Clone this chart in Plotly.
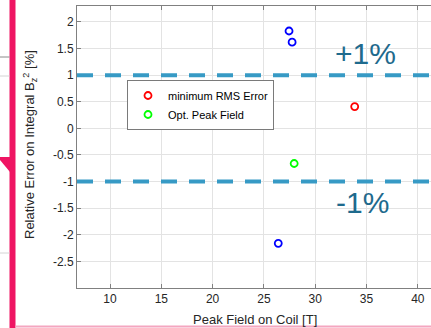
import plotly.graph_objects as go

# Peak field on coil [T] and relative error on integral Bz^2 [%]
rms_field = [33.85]
rms_error = [0.41]
peak_field = [27.95]
peak_error = [-0.66]
other_field = [27.45, 27.75, 26.4]
other_error = [1.83, 1.62, -2.16]

tolerance = [1, -1]
tolerance_labels = ["+1%", "-1%"]
tolerance_label_x = [34.9, 34.6]
tolerance_label_y = [1.41, -1.39]

x_ticks = [10, 15, 20, 25, 30, 35, 40]
y_ticks = [2, 1.5, 1, 0.5, 0, -0.5, -1, -1.5, -2, -2.5]

W, H = 431, 328
L, R, T, B = 77, 0, 6, 40
PW, PH = W - L - R, H - T - B


def px(x):
    return (x - L) / PW


def py(y):
    return 1 - (y - T) / PH


FONT = "Liberation Sans, Arial, Helvetica, sans-serif"
INK = "#262626"

fig = go.Figure()

marker_common = dict(symbol="circle-open", size=7, line=dict(width=1.8))

fig.add_trace(go.Scatter(
    x=other_field, y=other_error, mode="markers", showlegend=False,
    marker=dict(color="#0000ff", **marker_common)))
fig.add_trace(go.Scatter(
    x=rms_field, y=rms_error, mode="markers", name="minimum RMS Error",
    marker=dict(color="#ff0000", **marker_common)))
fig.add_trace(go.Scatter(
    x=peak_field, y=peak_error, mode="markers", name="Opt. Peak Field",
    marker=dict(color="#00ff00", **marker_common)))

shapes = []
# tolerance band limits
for t in tolerance:
    shapes.append(dict(type="line", xref="paper", yref="y", x0=0, x1=1, y0=t, y1=t,
                       line=dict(color="#379ac5", width=4, dash="16px,12px"), layer="above"))

# page decorations around the axes
shapes.append(dict(type="rect", xref="paper", yref="paper",
                   x0=px(9.5), x1=px(15.5), y0=py(H), y1=py(0),
                   fillcolor="#ef1563", line=dict(width=0)))
shapes.append(dict(type="line", xref="paper", yref="paper",
                   x0=px(15.5), x1=px(W), y0=py(326.5), y1=py(326.5),
                   line=dict(color="#f4a6c0", width=2)))
shapes.append(dict(type="line", xref="paper", yref="paper",
                   x0=px(0), x1=px(9.5), y0=py(57), y1=py(57),
                   line=dict(color="#8a8a8a", width=1)))
shapes.append(dict(type="line", xref="paper", yref="paper",
                   x0=px(0), x1=px(9.5), y0=py(76), y1=py(76),
                   line=dict(color="#d4d4d4", width=1)))
shapes.append(dict(type="line", xref="paper", yref="paper",
                   x0=px(0), x1=px(9.5), y0=py(253), y1=py(253),
                   line=dict(color="#d4d4d4", width=1)))
shapes.append(dict(type="path", xref="paper", yref="paper",
                   path=f"M {px(0)},{py(157)} L {px(10)},{py(157)} L {px(10)},{py(172)} L {px(0)},{py(160)} Z",
                   fillcolor="#ef1563", line=dict(width=0)))

annotations = []
for lab, ax, ay in zip(tolerance_labels, tolerance_label_x, tolerance_label_y):
    annotations.append(dict(x=ax, y=ay, xref="x", yref="y", text=lab, showarrow=False,
                            font=dict(family=FONT, size=30, color="#1e6a8d"),
                            xanchor="center", yanchor="middle"))
annotations.append(dict(x=px(30), y=py(145), xref="paper", yref="paper",
                        text="Relative Error on Integral B<sub>z</sub><sup>2</sup> [%]",
                        textangle=-90, showarrow=False,
                        font=dict(family=FONT, size=13, color=INK),
                        xanchor="center", yanchor="middle"))
annotations.append(dict(x=px(255), y=py(319), xref="paper", yref="paper",
                        text="Peak Field on Coil [T]", showarrow=False,
                        font=dict(family=FONT, size=13, color=INK),
                        xanchor="center", yanchor="middle"))

axis_common = dict(
    showgrid=True, gridcolor="#e3e3e3", gridwidth=1, zeroline=False,
    showline=True, linecolor="#808080", linewidth=1,
    ticks="inside", ticklen=4, tickcolor="#808080",
    tickfont=dict(family=FONT, size=12, color=INK),
)

fig.update_layout(
    width=W, height=H,
    margin=dict(l=L, r=R, t=T, b=B, autoexpand=False),
    paper_bgcolor="white", plot_bgcolor="white",
    xaxis=dict(range=[10 - 33 / 10.26, 10 - 33 / 10.26 + PW / 10.26],
               tickvals=x_ticks, mirror="ticks", **axis_common),
    yaxis=dict(range=[-3, 2.3], tickvals=y_ticks,
               ticktext=[f"{v:g}" for v in y_ticks], mirror=False, **axis_common),
    legend=dict(x=px(127), y=py(80), xanchor="left", yanchor="top",
                bgcolor="white", bordercolor="#7a7a7a", borderwidth=1,
                font=dict(family=FONT, size=11, color="#000000"),
                tracegroupgap=0, itemwidth=30),
    shapes=shapes, annotations=annotations, showlegend=True,
)

fig.write_html("out.html")
